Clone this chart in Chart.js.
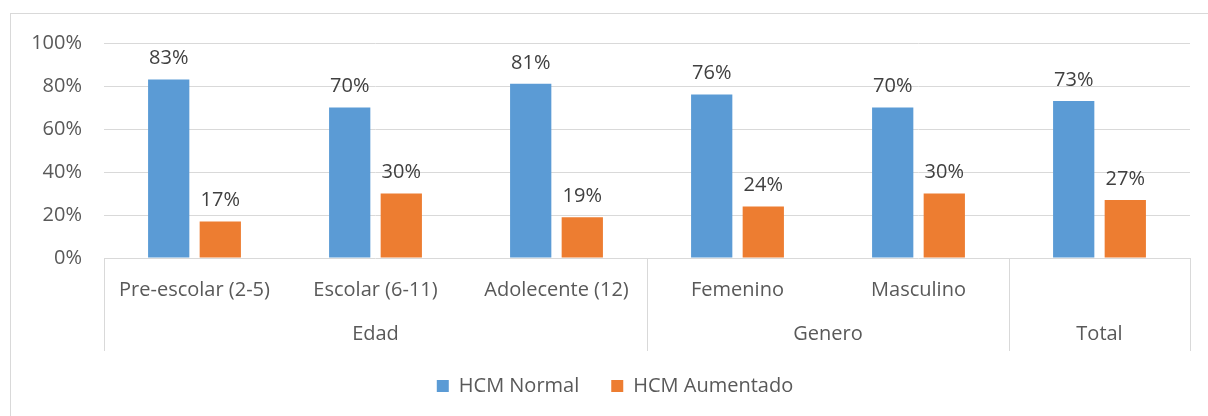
<!DOCTYPE html>
<html>
<head>
<meta charset="utf-8">
<script src="https://cdn.jsdelivr.net/npm/chart.js@4.4.1/dist/chart.umd.min.js"></script>
<style>
  html, body { margin: 0; padding: 0; background: #fff; }
  #caixa { width: 1208px; height: 416px; }
</style>
</head>
<body>
<div id="caixa"><canvas id="grafico" width="1208" height="416"></canvas></div>
<script>
// Dados
const categorias = ['Pre-escolar (2-5)', 'Escolar (6-11)', 'Adolecente (12)', 'Femenino', 'Masculino', ''];
const grupos = ['Edad', 'Genero', 'Total'];
const tamanhoGrupos = [3, 2, 1]; // quantas categorias cada grupo cobre
const hcmNormal = [83, 70, 81, 76, 70, 73];
const hcmAumentado = [17, 30, 19, 24, 30, 27];
const ticksY = [0, 20, 40, 60, 80, 100];

const fonte = '"Open Sans", sans-serif';
const tamFonte = 20;
const corTexto = '#595959';
const corLinha = '#d9d9d9';

// Moldura, eixo de dois níveis e rótulos de dados
const eixoMultinivel = {
    id: 'eixoMultinivel',
    afterLayout(chart) {
        // legenda um pouco à direita, como no original
        chart.legend.left += 20;
        chart.legend.right += 20;
    },
    beforeDraw(chart) {
        const c = chart.ctx;
        c.save();
        c.strokeStyle = corLinha;
        c.lineWidth = 1;
        c.strokeRect(10.5, 13.5, 1400, 600);
        c.restore();
    },
    afterDatasetsDraw(chart) {
        const c = chart.ctx;
        c.save();
        c.font = tamFonte + 'px ' + fonte;
        c.fillStyle = '#404040';
        c.textAlign = 'center';
        c.textBaseline = 'middle';
        chart.data.datasets.forEach((ds, i) => {
            chart.getDatasetMeta(i).data.forEach((barra, j) => {
                c.fillText(ds.data[j] + '%', barra.x, barra.y - 21);
            });
        });
        c.restore();
    },
    afterDraw(chart) {
        const c = chart.ctx;
        const x = chart.scales.x;
        const base = chart.chartArea.bottom;
        const largura = (x.right - x.left) / categorias.length;
        c.save();
        c.strokeStyle = corLinha;
        c.lineWidth = 1;
        let inicio = 0;
        const limites = [0];
        tamanhoGrupos.forEach(n => { inicio += n; limites.push(inicio); });
        limites.forEach(k => {
            const px = Math.round(x.left + k * largura) + 0.5;
            c.beginPath();
            c.moveTo(px, base);
            c.lineTo(px, base + 93);
            c.stroke();
        });
        c.font = tamFonte + 'px ' + fonte;
        c.fillStyle = corTexto;
        c.textAlign = 'center';
        c.textBaseline = 'middle';
        grupos.forEach((g, i) => {
            const meio = x.left + (limites[i] + limites[i + 1]) / 2 * largura;
            c.fillText(g, meio, base + 76);
        });
        c.restore();
    }
};

const ctx = document.getElementById('grafico').getContext('2d');
const chart = new Chart(ctx, {
    type: 'bar',
    data: {
        labels: categorias,
        datasets: [{
            label: 'HCM Normal',
            data: hcmNormal,
            backgroundColor: '#5b9bd5',
            categoryPercentage: 0.57,
            barPercentage: 0.8
        }, {
            label: 'HCM Aumentado',
            data: hcmAumentado,
            backgroundColor: '#ed7d31',
            categoryPercentage: 0.57,
            barPercentage: 0.8
        }]
    },
    options: {
        responsive: false,
        animation: false,
        devicePixelRatio: 1,
        layout: { padding: { top: 43, right: 18, left: 0, bottom: 10 } },
        plugins: {
            tooltip: { enabled: false },
            legend: {
                position: 'bottom',
                labels: {
                    boxWidth: 12,
                    boxHeight: 12,
                    padding: 32,
                    color: corTexto,
                    font: { family: fonte, size: tamFonte }
                }
            }
        },
        scales: {
            x: {
                grid: { display: false },
                border: { display: false },
                ticks: {
                    color: corTexto,
                    font: { family: fonte, size: tamFonte },
                    padding: 12,
                    maxRotation: 0,
                    autoSkip: false
                },
                afterFit(scale) { scale.height = 86; }
            },
            y: {
                min: 0,
                max: 100,
                afterBuildTicks(scale) { scale.ticks = ticksY.map(v => ({ value: v })); },
                grid: { color: corLinha, drawTicks: false },
                border: { display: false },
                ticks: {
                    color: corTexto,
                    font: { family: fonte, size: tamFonte },
                    padding: 22,
                    callback: v => v + '%'
                },
                afterFit(scale) { scale.width = 104; }
            }
        }
    },
    plugins: [eixoMultinivel]
});
</script>
</body>
</html>
